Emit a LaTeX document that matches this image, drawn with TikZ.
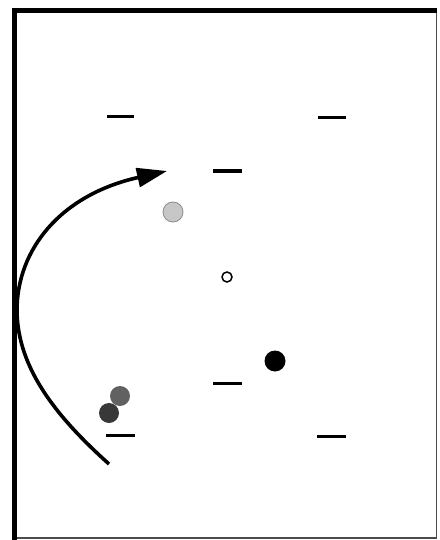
\documentclass[tikz,border=0pt]{standalone}
\usetikzlibrary{arrows.meta}
\begin{document}
\begin{tikzpicture}[x=1pt,y=-1pt,
  dashmark/.style={line width=3pt},
  ball/.style={circle,minimum size=20pt,inner sep=0pt},
]
\useasboundingbox (0,0) rectangle (439,540);
\fill[white] (0,0) rectangle (439,540);
% frame
\draw[line width=1.2pt,black!70] (436.5,10.5) -- (436.5,538) -- (14.5,538);
\draw[line width=4.5pt] (14.5,540) -- (14.5,10.5) -- (437,10.5);
% dashes
\coordinate (d1a) at (107,117); \coordinate (d1b) at (134,117);
\coordinate (d2a) at (318,118); \coordinate (d2b) at (346,118);
\coordinate (d3a) at (213,171); \coordinate (d3b) at (242,171);
\coordinate (d4a) at (213,383); \coordinate (d4b) at (242,383);
\coordinate (d5a) at (106,435); \coordinate (d5b) at (135,435);
\coordinate (d6a) at (317,436); \coordinate (d6b) at (346,436);
\foreach \i in {1,...,6} \draw[dashmark] (d\i a) -- (d\i b);
% balls
\node[ball,fill=black!22,draw=black!45,line width=0.8pt] (lg) at (173,212) {};
\node[circle,minimum size=10pt,inner sep=0pt,draw=black,line width=1.5pt,fill=white] (wc) at (227,277) {};
\node[ball,fill=black,minimum size=21pt] (bk) at (275,361) {};
\node[ball,fill=black!62] (mg) at (120,396) {};
\node[ball,fill=black!78] (dg) at (109,413) {};
% arrow
\coordinate (as) at (109,464);
\coordinate (al) at (17,310);
\coordinate (ae) at (167,171);
\draw[line width=3.6pt,-{Triangle[length=30pt,width=19pt]}]
  (as) .. controls (60,420) and (17,370) .. (al)
       .. controls (17,250) and (60,195) .. (ae);
\end{tikzpicture}
\end{document}
